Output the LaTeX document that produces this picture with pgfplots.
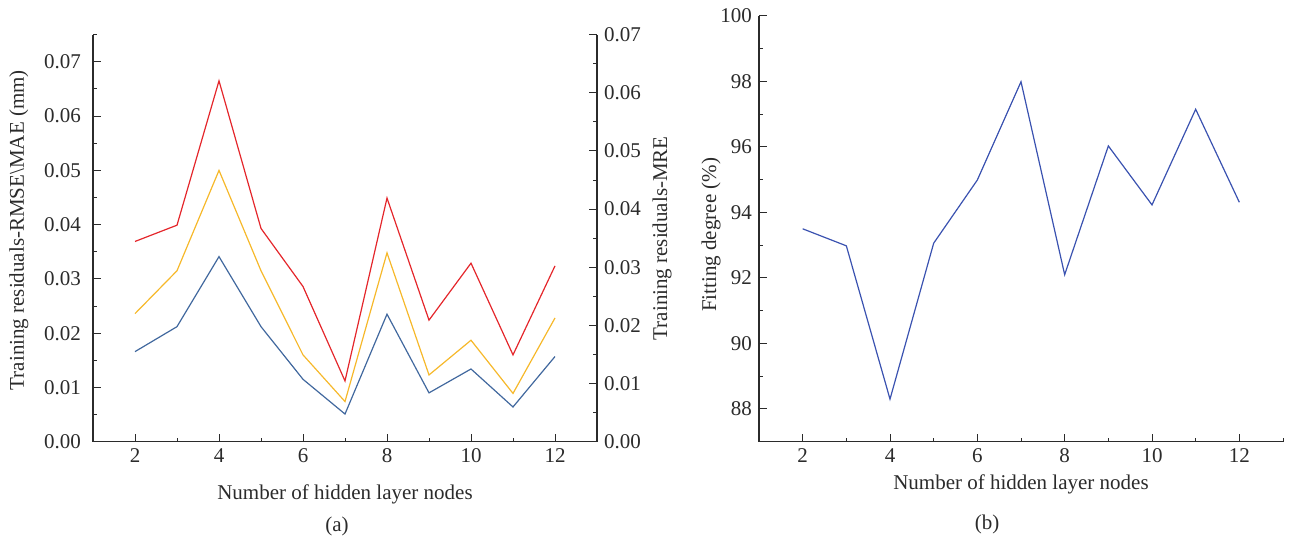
\documentclass[border=0pt]{standalone}
\usepackage{fontspec}
\setmainfont{Liberation Serif}
\usepackage{pgfplots}
\pgfplotsset{compat=1.18}

\definecolor{lred}{HTML}{E4262B}
\definecolor{lyel}{HTML}{F6B82A}
\definecolor{lblue}{HTML}{41689E}
\definecolor{rblue}{HTML}{3A52B0}
\definecolor{axgray}{HTML}{2B2B2B}

\pgfplotsset{
  panel/.style={
    scale only axis,
    font=\fontsize{10.5}{12}\selectfont,
    tick label style={font=\fontsize{10.5}{12}\selectfont, text=axgray},
    label style={text=axgray},
    axis line style={axgray, line width=0.6pt},
    every tick/.style={axgray, line width=0.5pt},
    tick align=inside,
    major tick length=3.8pt,
    minor tick length=1.9pt,
    /pgf/number format/assume math mode=true,
    xmin=1, xmax=13,
    xtick={2,4,...,12},
    minor xtick={1,3,...,13},
  },
}

\begin{document}
\begin{tikzpicture}
\path (0,0) rectangle (645pt,-270.5pt);

% panel (a), left y axis
\begin{axis}[panel,
  at={(46.5pt,-220.85pt)}, anchor=south west,
  width=252pt, height=203.5pt,
  axis x line*=bottom, axis y line*=left,
  ymin=0, ymax=0.075,
  ytick={0,0.01,...,0.07},
  minor ytick={0.005,0.015,...,0.075},
  scaled y ticks=false,
  yticklabel style={xshift=-2.5pt, /pgf/number format/.cd, fixed, fixed zerofill, precision=2},
  xlabel={Number of hidden layer nodes},
  ylabel={Training residuals-RMSE\textbackslash MAE (mm)},
  xlabel style={yshift=-4pt},
  ylabel style={yshift=1pt, xshift=4pt},
]
\addplot[lred, line width=0.6pt] coordinates {
  (2,0.0369) (3,0.0399) (4,0.0665) (5,0.0393) (6,0.0286) (7,0.0112)
  (8,0.0449) (9,0.0224) (10,0.0329) (11,0.0160) (12,0.0324)
};
\addplot[lyel, line width=0.6pt] coordinates {
  (2,0.0236) (3,0.0315) (4,0.0500) (5,0.0315) (6,0.0160) (7,0.0074)
  (8,0.0348) (9,0.0123) (10,0.0187) (11,0.0089) (12,0.0228)
};
\addplot[lblue, line width=0.6pt] coordinates {
  (2,0.0166) (3,0.0212) (4,0.0341) (5,0.0212) (6,0.0115) (7,0.0051)
  (8,0.0235) (9,0.0090) (10,0.0134) (11,0.0064) (12,0.0157)
};
\end{axis}

% panel (a), right y axis
\begin{axis}[panel,
  at={(46.5pt,-220.85pt)}, anchor=south west,
  width=252pt, height=203.5pt,
  axis x line=none, axis y line*=right,
  ymin=0, ymax=0.07,
  ytick={0,0.01,...,0.07},
  minor ytick={0.005,0.015,...,0.065},
  scaled y ticks=false,
  yticklabel style={/pgf/number format/.cd, fixed, fixed zerofill, precision=2},
  ylabel={Training residuals-MRE},
  ylabel style={yshift=1pt},
]
\end{axis}

\node[font=\fontsize{10.5}{12}\selectfont, text=axgray] at (168.5pt,-263pt) {(a)};

% panel (b)
\begin{axis}[panel,
  at={(379.5pt,-220.85pt)}, anchor=south west,
  width=262pt, height=212.9pt,
  axis x line*=bottom, axis y line*=left,
  ymin=87, ymax=100,
  ytick={88,90,...,100},
  minor ytick={87,89,...,99},
  xlabel={Number of hidden layer nodes},
  ylabel={Fitting degree (\%)},
  xlabel style={yshift=1pt},
  ylabel style={yshift=-7pt, xshift=-3pt},
]
\addplot[rblue, line width=0.6pt] coordinates {
  (2,93.50) (3,92.98) (4,88.30) (5,93.06) (6,94.99) (7,97.99)
  (8,92.10) (9,96.03) (10,94.23) (11,97.15) (12,94.31)
};
\end{axis}

\node[font=\fontsize{10.5}{12}\selectfont, text=axgray] at (493.5pt,-262pt) {(b)};
\end{tikzpicture}
\end{document}
